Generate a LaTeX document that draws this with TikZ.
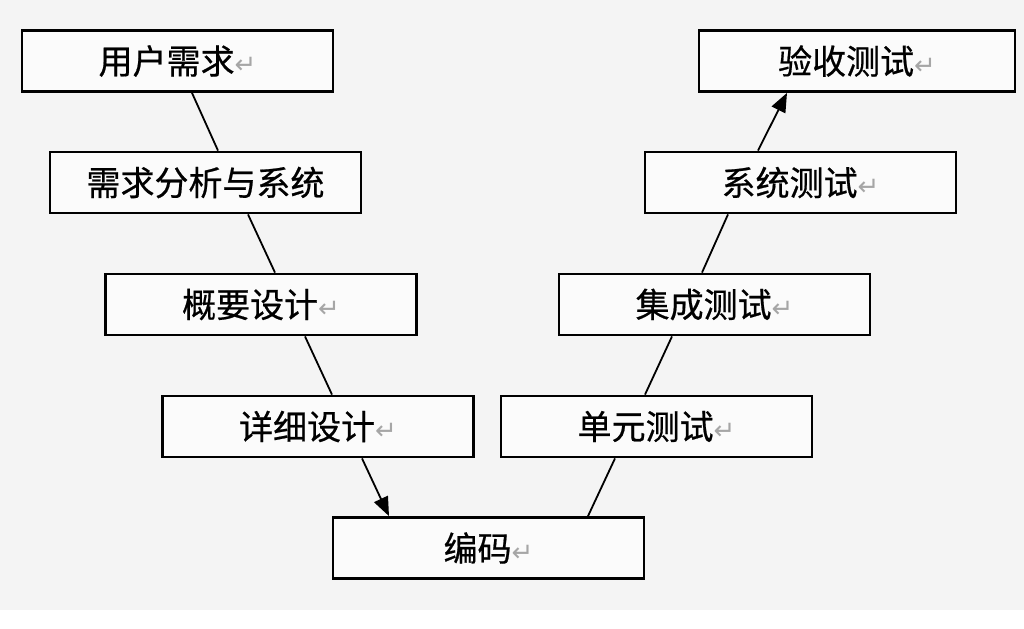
\documentclass[tikz,border=0pt]{standalone}
\usepackage{fontspec}
\setmainfont{Noto Sans CJK SC}[FakeBold=0.6]
\newfontfamily\symfont{DejaVu Sans}
\usetikzlibrary{arrows.meta,positioning}
\definecolor{paper}{RGB}{244,244,244}
\newcommand{\ret}{{\symfont\color{black!35}\fontsize{13}{15}\selectfont ↵}}

\begin{document}
\begin{tikzpicture}[
    x=0.5pt, y=-0.5pt,
    stage/.style={rectangle, draw, line width=1.4pt, fill=white!60!paper,
                  minimum width=155.5pt, minimum height=30.5pt,
                  font=\fontsize{17}{20}\selectfont, inner sep=0pt},
    link/.style={line width=0.9pt},
    arrow/.style={link, -{Triangle[length=9.5pt,width=7.5pt]}}
]
    % page and background
    \fill[white] (0,0) rectangle (1024,628);
    \fill[paper] (0,0) rectangle (1024,610);
    \useasboundingbox (0,0) rectangle (1024,628);

    % left branch
    \node[stage] (user) at (177.5,61) {用户需求\ret};
    \node[stage] (req)  at (205.5,182.5) {需求分析与系统};
    \node[stage] (arch) at (261,304.5) {概要设计\ret};
    \node[stage] (det)  at (318,426.5) {详细设计\ret};
    \node[stage] (code) at (488.5,548) {编码\ret};

    % right branch
    \node[stage] (unit)  at (656.5,426.5) {单元测试\ret};
    \node[stage] (integ) at (714.5,304.5) {集成测试\ret};
    \node[stage] (sys)   at (800.5,182.5) {系统测试\ret};
    \node[stage, minimum width=158pt] (acc) at (857,61) {验收测试\ret};

    \draw[link] ([xshift=7.25pt]user.south) -- ([xshift=6.25pt]req.north);
    \draw[link] ([xshift=21.25pt]req.south) -- ([xshift=7pt]arch.north);
    \draw[link] ([xshift=22pt]arch.south) -- ([xshift=7pt]det.north);
    \draw[arrow] ([xshift=22pt]det.south) -- ([xshift=-49.75pt]code.north);
    \draw[link] ([xshift=49.75pt]code.north) -- ([xshift=-20.75pt]unit.south);
    \draw[link] ([xshift=-5.75pt]unit.north) -- ([xshift=-21.25pt]integ.south);
    \draw[link] ([xshift=-6.25pt]integ.north) -- ([xshift=-36.25pt]sys.south);
    \draw[arrow] ([xshift=-21.25pt]sys.north) -- ([xshift=-35pt]acc.south);
\end{tikzpicture}
\end{document}
